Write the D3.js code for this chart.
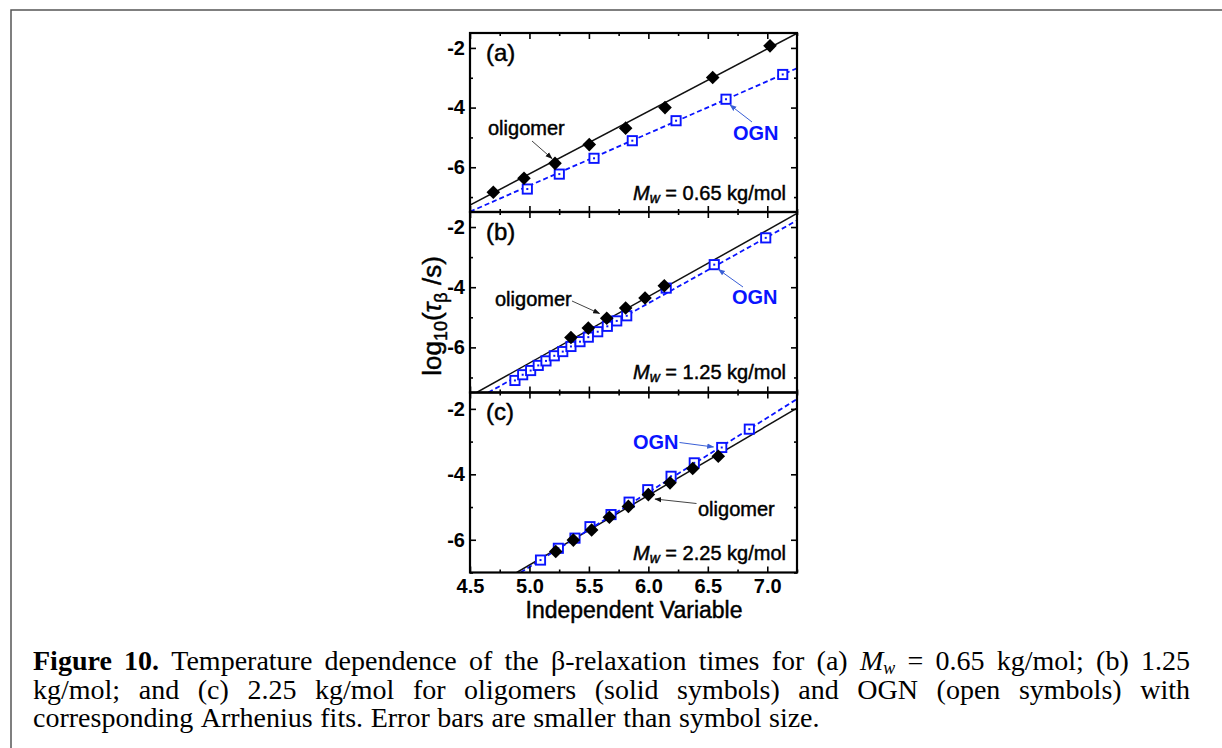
<!DOCTYPE html>
<html>
<head>
<meta charset="utf-8">
<script src="https://cdn.jsdelivr.net/npm/d3@7"></script>
<style>
  body { margin: 0; background: #fff; }
  svg { display: block; }
</style>
</head>
<body>
<svg id="fig" width="1222" height="748"></svg>
<script>
// ---- axis ticks ----
const xMajor = [4.5, 5.0, 5.5, 6.0, 6.5, 7.0];
const xMinor = [4.75, 5.25, 5.75, 6.25, 6.75, 7.25];
const yMajor = [-2, -4, -6];
const yMinor = [-3, -5, -7];
const xDomain = [4.5, 7.25];

// ---- (a) Mw = 0.65 kg/mol ----
const oligA_x = [4.696, 4.954, 5.215, 5.503, 5.809, 6.140, 6.541, 7.023];
const oligA_y = [-6.84, -6.37, -5.87, -5.24, -4.69, -4.00, -2.99, -1.93];
const ognA_x  = [4.982, 5.251, 5.543, 5.865, 6.233, 6.653, 7.130];
const ognA_y  = [-6.73, -6.23, -5.70, -5.11, -4.44, -3.72, -2.89];
const fitOligA = [[4.50, -7.27], [7.25, -1.51]];
const fitOgnA  = [[4.50, -7.49], [7.25, -2.68]];

// ---- (b) Mw = 1.25 kg/mol ----
const oligB_x = [5.349, 5.495, 5.650, 5.809, 5.972, 6.134];
const oligB_y = [-5.67, -5.36, -5.03, -4.69, -4.36, -3.95];
const ognB_x  = [4.878, 4.943, 5.010, 5.074, 5.139, 5.209, 5.280, 5.349, 5.425,
                 5.495, 5.574, 5.655, 5.734, 5.818, 6.150, 6.554, 6.987];
const ognB_y  = [-7.10, -6.91, -6.77, -6.60, -6.45, -6.28, -6.14, -5.97, -5.81,
                 -5.66, -5.48, -5.30, -5.12, -4.95, -4.03, -3.25, -2.36];
const fitOligB = [[4.556, -7.50], [7.25, -1.55]];
const fitOgnB  = [[4.654, -7.50], [7.25, -1.78]];

// ---- (c) Mw = 2.25 kg/mol ----
const oligC_x = [5.221, 5.369, 5.523, 5.672, 5.832, 6.000, 6.182, 6.373, 6.588];
const oligC_y = [-6.36, -6.01, -5.70, -5.31, -4.98, -4.62, -4.26, -3.82, -3.45];
const ognC_x  = [5.093, 5.243, 5.383, 5.509, 5.686, 5.838, 5.995, 6.191, 6.386, 6.617, 6.849];
const ognC_y  = [-6.62, -6.26, -5.95, -5.60, -5.23, -4.85, -4.47, -4.06, -3.65, -3.18, -2.62];
const fitOligC = [[4.893, -7.00], [7.25, -1.98]];
const fitOgnC  = [[4.926, -7.00], [7.25, -1.70]];

const panelLabels = ["(a)", "(b)", "(c)"];
const massLabels = ["0.65", "1.25", "2.25"];
const yDomains = [[-7.5, -1.5], [-7.5, -1.5], [-7.0, -1.5]];

const captionLines = [
  "Figure 10. Temperature dependence of the β-relaxation times for (a) Mw = 0.65 kg/mol; (b) 1.25",
  "kg/mol; and (c) 2.25 kg/mol for oligomers (solid symbols) and OGN (open symbols) with",
  "corresponding Arrhenius fits. Error bars are smaller than symbol size."
];

// ---- layout ----
const SANS = "'Liberation Sans', Arial, Helvetica, sans-serif";
const SERIF = "'Liberation Serif', 'Times New Roman', Times, serif";
const BLUE = "#0a14ff";
const ARROW_BLUE = "#3a5fd6";
const plotLeft = 470, plotRight = 797;
const panelTop = [33, 212, 392.5];
const panelBottom = [212, 392.5, 572.5];

// annotation placement, in pixels relative to each panel's top-left corner
const notes = [
  { olig: [18, 95], oligArrow: [[62, 108], [82, 125.5]],
    ogn: [263, 100], ognArrow: [[282, 89], [260, 72]] },
  { olig: [25, 87], oligArrow: [[102, 89], [129.5, 101.5]],
    ogn: [262, 85], ognArrow: [[273, 75], [248.5, 57.5]] },
  { olig: [228, 116.5], oligArrow: [[226.5, 111], [185, 106.5]],
    ogn: [163, 49], ognArrow: [[209.5, 50], [243.5, 54.5]] }
];

const panels = [
  { olig: [oligA_x, oligA_y], ogn: [ognA_x, ognA_y], fitOlig: fitOligA, fitOgn: fitOgnA },
  { olig: [oligB_x, oligB_y], ogn: [ognB_x, ognB_y], fitOlig: fitOligB, fitOgn: fitOgnB },
  { olig: [oligC_x, oligC_y], ogn: [ognC_x, ognC_y], fitOlig: fitOligC, fitOgn: fitOgnC }
];

const svg = d3.select("#fig");
const defs = svg.append("defs");

// slightly heavier sans text, as in the printed figure
const heavy = (sel, color) => sel.attr("stroke", color).attr("stroke-width", 0.45)
  .attr("paint-order", "stroke");

function addMarker(id, color) {
  defs.append("marker")
    .attr("id", id)
    .attr("viewBox", "0 0 10 10")
    .attr("refX", 9).attr("refY", 5)
    .attr("markerWidth", 7).attr("markerHeight", 7)
    .attr("markerUnits", "userSpaceOnUse")
    .attr("orient", "auto")
    .append("path")
    .attr("d", "M0,1.2L10,5L0,8.8Z")
    .attr("fill", color);
}
addMarker("headBlack", "#111");
addMarker("headBlue", ARROW_BLUE);

// outer frame (top and left edges)
svg.append("path")
  .attr("d", "M11,748V10H1222")
  .attr("fill", "none")
  .attr("stroke", "#555")
  .attr("stroke-width", 1.5);

const x = d3.scaleLinear().domain(xDomain).range([plotLeft, plotRight]);
const zip = (xs, ys) => xs.map((v, k) => [v, ys[k]]);

panels.forEach((p, i) => {
  const top = panelTop[i], bottom = panelBottom[i];
  const y = d3.scaleLinear().domain(yDomains[i]).range([bottom, top]);
  const g = svg.append("g");

  const clipId = "clip" + i;
  defs.append("clipPath").attr("id", clipId)
    .append("rect")
    .attr("x", plotLeft).attr("y", top)
    .attr("width", plotRight - plotLeft).attr("height", bottom - top);

  const plot = g.append("g").attr("clip-path", `url(#${clipId})`);
  const line = d3.line().x(d => x(d[0])).y(d => y(d[1]));

  // Arrhenius fits
  plot.append("path").datum(p.fitOlig).attr("d", line)
    .attr("fill", "none").attr("stroke", "#111").attr("stroke-width", 1.5);
  plot.append("path").datum(p.fitOgn).attr("d", line)
    .attr("fill", "none").attr("stroke", BLUE).attr("stroke-width", 1.8)
    .attr("stroke-dasharray", "5,3");

  // OGN: open squares with a center dot
  const sq = plot.append("g").selectAll("g")
    .data(zip(p.ogn[0], p.ogn[1])).join("g")
    .attr("transform", d => `translate(${x(d[0])},${y(d[1])})`);
  sq.append("rect").attr("x", -4.6).attr("y", -4.6).attr("width", 9.2).attr("height", 9.2)
    .attr("fill", "#fff").attr("stroke", BLUE).attr("stroke-width", 1.9);
  sq.append("rect").attr("x", -1).attr("y", -1).attr("width", 2).attr("height", 2)
    .attr("fill", BLUE);

  // oligomer: filled diamonds
  plot.append("g").selectAll("path")
    .data(zip(p.olig[0], p.olig[1])).join("path")
    .attr("transform", d => `translate(${x(d[0])},${y(d[1])})`)
    .attr("d", "M0,-6.8L6.8,0L0,6.8L-6.8,0Z")
    .attr("fill", "#000");

  // axes (ticks point inward on all four sides)
  const styleAxis = sel => {
    sel.select(".domain").remove();
    sel.selectAll(".tick line").attr("stroke", "#000").attr("stroke-width", 1.6);
    sel.selectAll(".tick text").attr("fill", "#000")
      .attr("font-family", SANS).attr("font-size", 20).attr("font-weight", "bold");
  };
  const fmtY = d => String(d);
  const fmtX = d => d.toFixed(1);

  g.append("g").attr("transform", `translate(${plotLeft},0)`)
    .call(d3.axisLeft(y).tickValues(yMajor).tickSizeInner(-6).tickSizeOuter(0)
      .tickPadding(5).tickFormat(fmtY)).call(styleAxis);
  g.append("g").attr("transform", `translate(${plotLeft},0)`)
    .call(d3.axisLeft(y).tickValues(yMinor).tickSizeInner(-3).tickSizeOuter(0)
      .tickFormat("")).call(styleAxis);
  g.append("g").attr("transform", `translate(${plotRight},0)`)
    .call(d3.axisRight(y).tickValues(yMajor).tickSizeInner(-6).tickSizeOuter(0)
      .tickFormat("")).call(styleAxis);
  g.append("g").attr("transform", `translate(${plotRight},0)`)
    .call(d3.axisRight(y).tickValues(yMinor).tickSizeInner(-3).tickSizeOuter(0)
      .tickFormat("")).call(styleAxis);
  g.append("g").attr("transform", `translate(0,${top})`)
    .call(d3.axisTop(x).tickValues(xMajor).tickSizeInner(-6).tickSizeOuter(0)
      .tickFormat("")).call(styleAxis);
  g.append("g").attr("transform", `translate(0,${top})`)
    .call(d3.axisTop(x).tickValues(xMinor).tickSizeInner(-3).tickSizeOuter(0)
      .tickFormat("")).call(styleAxis);
  g.append("g").attr("transform", `translate(0,${bottom})`)
    .call(d3.axisBottom(x).tickValues(xMajor).tickSizeInner(-6).tickSizeOuter(0)
      .tickPadding(6).tickFormat(i === 2 ? fmtX : "")).call(styleAxis);
  g.append("g").attr("transform", `translate(0,${bottom})`)
    .call(d3.axisBottom(x).tickValues(xMinor).tickSizeInner(-3).tickSizeOuter(0)
      .tickFormat("")).call(styleAxis);

  // panel frame
  g.append("rect")
    .attr("x", plotLeft).attr("y", top)
    .attr("width", plotRight - plotLeft).attr("height", bottom - top)
    .attr("fill", "none").attr("stroke", "#000").attr("stroke-width", 2.2);

  // panel letter
  g.append("text")
    .attr("x", plotLeft + 16).attr("y", top + 19)
    .attr("dominant-baseline", "central")
    .attr("font-family", SANS).attr("font-size", 24)
    .text(panelLabels[i]).call(heavy, "#000");

  // molar mass label
  const mw = g.append("text")
    .attr("x", plotRight - 11).attr("y", top + 160)
    .attr("dominant-baseline", "central").attr("text-anchor", "end")
    .attr("font-family", SANS).attr("font-size", 20).call(heavy, "#000");
  mw.append("tspan").attr("font-style", "italic").text("M");
  mw.append("tspan").attr("font-style", "italic").attr("font-size", 14).attr("dy", 5).text("w");
  mw.append("tspan").attr("dy", -5).text(" = " + massLabels[i] + " kg/mol");

  // series callouts
  const n = notes[i];
  g.append("text")
    .attr("x", plotLeft + n.olig[0]).attr("y", top + n.olig[1])
    .attr("dominant-baseline", "central")
    .attr("font-family", SANS).attr("font-size", 20).attr("fill", "#000")
    .text("oligomer").call(heavy, "#000");
  g.append("text")
    .attr("x", plotLeft + n.ogn[0]).attr("y", top + n.ogn[1])
    .attr("dominant-baseline", "central")
    .attr("font-family", SANS).attr("font-size", 20).attr("font-weight", "bold")
    .attr("fill", BLUE)
    .text("OGN");
  const arrowLine = d3.line().x(d => plotLeft + d[0]).y(d => top + d[1]);
  g.append("path").attr("d", arrowLine(n.oligArrow))
    .attr("stroke", "#444").attr("stroke-width", 1).attr("fill", "none")
    .attr("marker-end", "url(#headBlack)");
  g.append("path").attr("d", arrowLine(n.ognArrow))
    .attr("stroke", ARROW_BLUE).attr("stroke-width", 1).attr("fill", "none")
    .attr("marker-end", "url(#headBlue)");
});

// x-axis title
svg.append("text")
  .attr("x", (plotLeft + plotRight) / 2 + 0.5).attr("y", 610)
  .attr("dominant-baseline", "central").attr("text-anchor", "middle")
  .attr("font-family", SANS).attr("font-size", 23)
  .text("Independent Variable").call(heavy, "#000");

// y-axis title: log10(τβ /s)
const yt = svg.append("text")
  .attr("transform", "translate(441,316) rotate(-90)")
  .attr("text-anchor", "middle")
  .attr("font-family", SANS).attr("font-size", 26).call(heavy, "#000");
yt.append("tspan").text("log");
yt.append("tspan").attr("font-size", 18).attr("dy", 6).text("10");
yt.append("tspan").attr("dy", -6).text("(");
yt.append("tspan").attr("font-style", "italic").text("τ");
yt.append("tspan").attr("font-size", 18).attr("dy", 6).text("β");
yt.append("tspan").attr("dy", -6).text(" /s)");

// caption, justified across the first two lines
const capSize = 28;
const capLeft = 33, capRight = 1190;
const capBase = [670, 698.5, 727];
const capG = svg.append("g")
  .attr("font-family", SERIF).attr("font-size", capSize).attr("fill", "#000");

function drawToken(parent, word, lineIdx, wordIdx) {
  const t = parent.append("text");
  if (lineIdx === 0 && wordIdx < 2) {
    t.attr("font-weight", "bold").text(word);
  } else if (word === "Mw") {
    t.append("tspan").attr("font-style", "italic").text("M");
    t.append("tspan").attr("font-style", "italic")
      .attr("font-size", capSize * 0.64).attr("dy", 4).text("w");
  } else {
    t.text(word);
  }
  return t;
}

captionLines.forEach((lineText, li) => {
  const words = lineText.split(" ");
  const toks = words.map((w, wi) => drawToken(capG, w, li, wi).attr("y", capBase[li]));
  const widths = toks.map(t => t.node().getComputedTextLength());
  const total = d3.sum(widths);
  const gap = li < 2
    ? (capRight - capLeft - total) / (words.length - 1)
    : capSize * 0.27;
  let cx = capLeft;
  toks.forEach((t, k) => {
    t.attr("x", cx);
    cx += widths[k] + gap;
  });
});
</script>
</body>
</html>
